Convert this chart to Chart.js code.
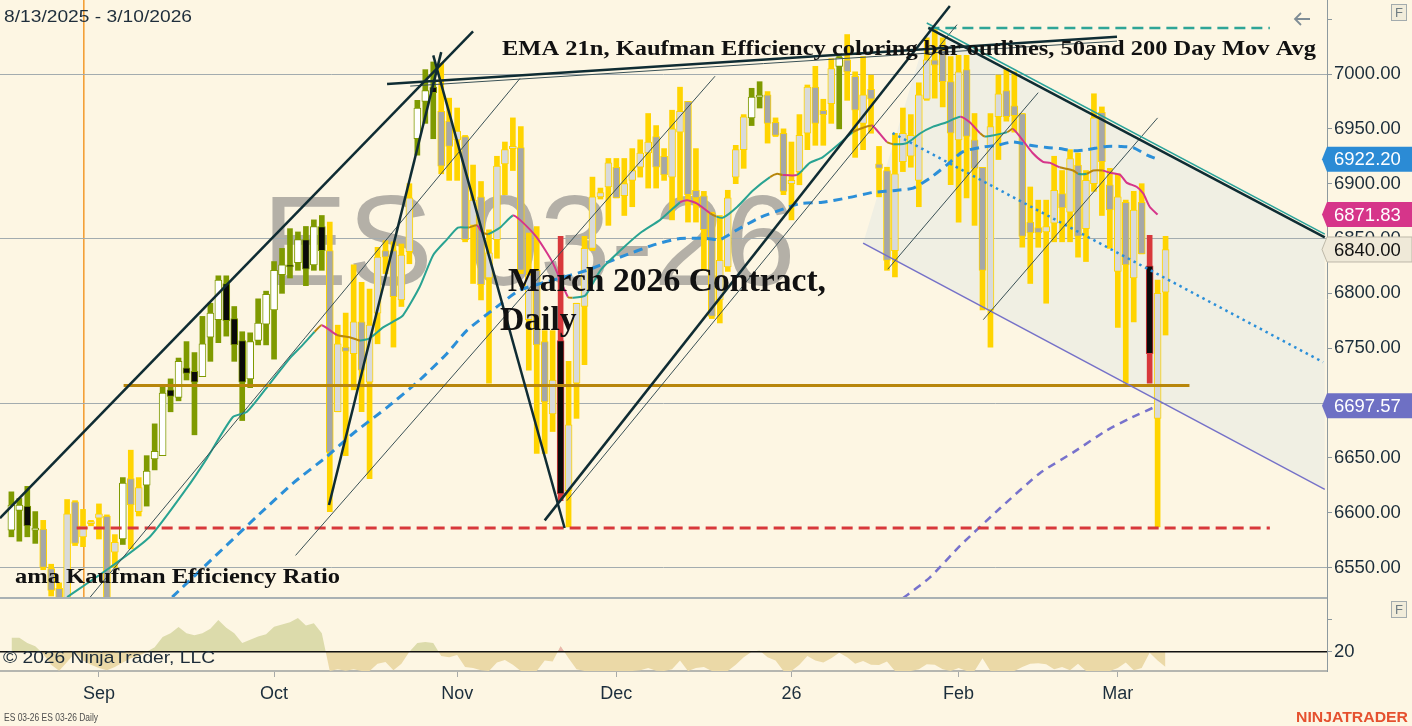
<!DOCTYPE html>
<html>
<head>
<meta charset="utf-8">
<title>ES 03-26 Daily</title>
<script src="https://cdn.jsdelivr.net/npm/chart.js@4.4.1/dist/chart.umd.min.js"></script>
<style>
  html, body { margin: 0; padding: 0; background: #fdf6e3; }
  #wrap { position: relative; width: 1412px; height: 726px; overflow: hidden; background: #fdf6e3; }
  #pricePane { position: absolute; left: 0; top: 0; width: 1412px; height: 598px; }
  #erPane { position: absolute; left: 0; top: 597px; width: 1412px; height: 129px; }
</style>
</head>
<body>
<div id="wrap">
  <div id="pricePane"><canvas id="priceChart"></canvas></div>
  <div id="erPane"><canvas id="erChart"></canvas></div>
</div>
<script>
// daily bars, index 0 = first visible bar (mid Aug 2025) .. 145 = 3/10/2026
const barOpen = [
  6584, 6602, 6606, 6584, 6585, 6549, 6531, 6515, 6610, 6578,
  6590, 6595, 6597, 6564, 6576, 6631, 6601, 6625, 6649, 6652,
  6712, 6705, 6732, 6729, 6724, 6760, 6776, 6809, 6777, 6757,
  6722, 6757, 6772, 6785, 6817, 6826, 6828, 6849, 6826, 6861,
  6839, 6692, 6751, 6745, 6774, 6719, 6782, 6839, 6839, 6794,
  6838, 6941, 6975, 6988, 6966, 6957, 6940, 6943, 6862, 6888,
  6814, 6849, 6918, 6932, 6933, 6776, 6821, 6756, 6690, 6757,
  6620, 6718, 6788, 6841, 6888, 6897, 6915, 6889, 6903, 6915,
  6928, 6943, 6925, 6906, 6947, 6975, 6894, 6889, 6873, 6794,
  6824, 6906, 6931, 6960, 6979, 6981, 6956, 6946, 6900, 6911,
  6946, 6988, 6967, 6973, 7007, 7013, 6998, 6955, 6986, 6918,
  6912, 6839, 6920, 6925, 6903, 6977, 7013, 7022, 6993, 6940,
  7004, 6940, 6915, 6785, 6961, 6985, 6971, 6964, 6865, 6860,
  6856, 6864, 6891, 6874, 6917, 6859, 6900, 6965, 6899, 6820,
  6883, 6814, 6883, 6825, 6686, 6801
];
const barHigh = [
  6619, 6613, 6624, 6601, 6593, 6553, 6536, 6612, 6611, 6603,
  6593, 6608, 6598, 6580, 6632, 6657, 6632, 6652, 6681, 6715,
  6722, 6741, 6756, 6746, 6779, 6791, 6816, 6816, 6788, 6765,
  6764, 6795, 6802, 6829, 6841, 6859, 6856, 6861, 6867, 6871,
  6865, 6771, 6782, 6826, 6810, 6804, 6842, 6848, 6847, 6845,
  6900, 6976, 7004, 7011, 7010, 6978, 6969, 6944, 6917, 6902,
  6858, 6925, 6938, 6960, 6952, 6855, 6861, 6766, 6766, 6852,
  6738, 6791, 6852, 6906, 6896, 6923, 6923, 6923, 6932, 6940,
  6964, 6953, 6932, 6967, 6988, 6975, 6932, 6893, 6874, 6871,
  6894, 6935, 6963, 6987, 6993, 6984, 6960, 6950, 6938, 6963,
  6990, 7007, 6977, 7014, 7016, 7036, 7002, 7016, 6999, 6934,
  6915, 6946, 6969, 6963, 6992, 7033, 7041, 7033, 7016, 7017,
  7017, 6964, 6915, 6964, 6999, 7005, 7002, 6964, 6897, 6885,
  6885, 6925, 6912, 6931, 6928, 6912, 6982, 6970, 6914, 6909,
  6885, 6893, 6900, 6853, 6812, 6852
];
const barLow = [
  6578, 6574, 6578, 6572, 6548, 6524, 6505, 6505, 6570, 6569,
  6588, 6576, 6505, 6550, 6571, 6567, 6597, 6606, 6639, 6652,
  6692, 6702, 6721, 6671, 6724, 6738, 6755, 6761, 6738, 6684,
  6714, 6753, 6753, 6740, 6800, 6814, 6821, 6807, 6821, 6821,
  6601, 6692, 6652, 6712, 6692, 6631, 6754, 6818, 6751, 6788,
  6827, 6926, 6955, 6941, 6909, 6903, 6903, 6847, 6809, 6794,
  6718, 6832, 6890, 6912, 6818, 6730, 6654, 6654, 6674, 6611,
  6587, 6686, 6735, 6839, 6886, 6862, 6887, 6871, 6879, 6906,
  6896, 6896, 6903, 6867, 6885, 6865, 6865, 6821, 6777, 6773,
  6820, 6900, 6914, 6953, 6969, 6937, 6943, 6890, 6867, 6899,
  6931, 6935, 6935, 6955, 6950, 6976, 6924, 6931, 6946, 6888,
  6821, 6815, 6911, 6915, 6879, 6976, 6978, 6970, 6899, 6865,
  6887, 6862, 6785, 6751, 6922, 6957, 6947, 6842, 6809, 6842,
  6791, 6847, 6847, 6847, 6833, 6829, 6893, 6871, 6841, 6769,
  6718, 6774, 6836, 6718, 6587, 6762
];
const barClose = [
  6607, 6607, 6588, 6586, 6550, 6529, 6515, 6599, 6572, 6588,
  6591, 6599, 6515, 6573, 6627, 6607, 6623, 6638, 6656, 6709,
  6706, 6738, 6727, 6719, 6754, 6782, 6812, 6775, 6753, 6719,
  6756, 6773, 6799, 6821, 6826, 6824, 6849, 6822, 6861, 6839,
  6655, 6754, 6747, 6774, 6730, 6771, 6833, 6833, 6797, 6835,
  6887, 6969, 6985, 6983, 6916, 6934, 6948, 6849, 6885, 6808,
  6837, 6916, 6931, 6934, 6821, 6817, 6753, 6701, 6721, 6617,
  6680, 6791, 6841, 6888, 6892, 6919, 6887, 6900, 6912, 6928,
  6938, 6915, 6908, 6950, 6966, 6890, 6887, 6858, 6779, 6830,
  6887, 6931, 6961, 6979, 6980, 6955, 6944, 6893, 6903, 6944,
  6988, 6955, 6963, 7005, 7015, 7002, 6967, 6981, 6977, 6914,
  6830, 6909, 6946, 6944, 6981, 7013, 7008, 6993, 6946, 7002,
  6943, 6914, 6821, 6952, 6982, 6961, 6962, 6852, 6855, 6855,
  6861, 6894, 6878, 6923, 6852, 6903, 6960, 6920, 6876, 6888,
  6826, 6876, 6836, 6745, 6800, 6840
];
// Kaufman efficiency state per bar: T = efficient trend, C = choppy, R = reversal
const barState = (
  'TTTTCCCCCC' + 'CCCCTCCTTT' + 'TTTTTTTTTT' + 'TTTTTTTTTT' + 'CCCCCCCCCC' +
  'CTTTCCCCCC' + 'CCCCCCCCCR' + 'CCCCCCCCCC' + 'CCCCCCCCCC' + 'CCCTTCCCCC' +
  'CCCCTCCCCC' + 'CCCCCCCCCC' + 'CCCCCCCCCC' + 'CCCCCCCCCC' + 'CCCRCC'
).split('');

// ama Kaufman Efficiency Ratio (lower panel)
const erValue = [
  32.8, 32.8, 28, 25, 18, 8, 2.5, 10.5, 19, 12,
  8, 5, 3, 6, 10, 14, 16, 20, 24, 33.5,
  37, 42.7, 37, 35, 37, 41, 49, 42, 37, 28,
  31, 34, 36, 43, 45, 47, 51, 44, 46, 37,
  2.3, 4, 2.5, 4, 2.3, 2.3, 9, 10.5, 3, 9,
  20, 28, 29, 28, 16, 15, 17, 6, 5, 3,
  2.3, 10, 12.5, 8, 2.3, 2.3, 2.3, 12, 11, 25,
  14, 4, 2.3, 2.3, 2.3, 2.3, 2.3, 2.3, 2.3, 3,
  5, 2.5, 2.3, 4, 12, 2.3, 5, 6, 2.3, 2.3,
  2.3, 8, 15, 20, 21, 15, 12, 2.3, 2.3, 8,
  16, 12, 10, 14, 19, 15, 9, 11.5, 8, 7.8,
  11, 2.3, 2.3, 2.3, 4, 8.5, 8, 4, 2.3, 5,
  2.3, 2.3, 14, 2.3, 2.3, 2.3, 2.3, 6, 9, 9.5,
  8.5, 4, 6, 3, 9, 2.3, 2.3, 2.3, 2.3, 5,
  10, 3, 5, 19, 12, 6
];
const erLevel = 20;
const erTicks = [20, 50];

// EMA 21 (u = rising, d = falling, f = flat colouring)
const emaBar = [7, 12.4, 17.4, 22.1, 24.6, 27.8, 29.6, 32.5, 35, 36.6, 38.1, 39, 40.9, 42.5, 43.8, 45, 46.7, 47.9, 49.2, 51.3,
  53, 54.7, 56.1, 57.4, 58.5, 59.1, 59.9, 61.4, 63, 63.9, 66, 68, 69.9, 70.5, 72.1, 74, 76.5, 79, 81.5, 84,
  84.9, 86.1, 87.8, 88.6, 89.4, 91.2, 93.2, 95.3, 96.2, 96.9, 98.7, 100.3, 101.9, 104.1, 105.7, 107, 108.1, 108.7, 110, 110.8,
  112.5, 114.2, 115.8, 117.5, 119.2, 120.4, 121.7, 122.3, 123.3, 125.1, 125.8, 126.7, 128.3, 129.6, 130.5, 131.7, 133.4, 134, 135.1, 135.9,
  137.1, 138, 139.3, 140.1, 141.4, 142.2, 143, 144];
const emaValue = [6523, 6550, 6578, 6623, 6650, 6687, 6692, 6718, 6741, 6753, 6765, 6771, 6762, 6760, 6757, 6759, 6769, 6774, 6780, 6806,
  6835, 6849, 6860, 6860, 6862, 6856, 6854, 6860, 6871, 6867, 6851, 6828, 6797, 6796, 6798, 6821, 6839, 6855, 6867, 6883,
  6885, 6882, 6873, 6870, 6869, 6879, 6894, 6906, 6909, 6908, 6908, 6919, 6924, 6937, 6947, 6951, 6953, 6949, 6938, 6936,
  6937, 6946, 6952, 6956, 6961, 6956, 6946, 6943, 6944, 6947, 6950, 6943, 6928, 6920, 6919, 6915, 6912, 6909, 6909, 6912,
  6912, 6910, 6908, 6901, 6897, 6891, 6879, 6871.83];
const emaTrend = ('uuuuuuuuuu' + 'ufdffuuuuu' + 'uuuufdfuud' + 'dddfuuuuuu' + 'dddfuuuuff' +
  'duuuuffddf' + 'uuuuuddfuu' + 'fdddddffuf' + 'fddddddd').split('');

// 50 and 200 day moving averages
const sma50Bar = [20.2, 31.2, 35.4, 39.6, 42.9, 47.2, 51.3, 54.7, 57.2, 60.5, 63.9, 68, 72.3, 76.5, 80.6, 84, 87.4, 89, 91.2, 94,
  97.4, 99.1, 101.9, 105, 108.2, 111.3, 113.3, 115.4, 117.5, 119.5, 121.7, 123.8, 125.8, 128, 130.1, 131.7, 133.4, 135.1, 137.6, 139.3,
  140.9, 142.7, 144];
const sma50Value = [6523, 6599, 6627, 6651, 6672, 6696, 6721, 6745, 6766, 6785, 6803, 6812, 6821, 6833, 6844, 6850, 6850, 6849, 6858, 6869,
  6878, 6882, 6883, 6887, 6892, 6894, 6896, 6905, 6917, 6929, 6933, 6935, 6938, 6935, 6933, 6932, 6930, 6931, 6934, 6934,
  6933, 6926, 6922.2];
const sma200Bar = [112, 115.4, 119.2, 124.2, 129.2, 133.4, 137.6, 140.5, 144];
const sma200Value = [6522, 6541, 6570, 6604, 6636, 6655, 6675, 6686, 6697.57];

// drawing objects: [bar1, price1, bar2, price2]
const thickLines = [
  [-1.43, 6595, 58.0, 7039],
  [39.9, 6607, 54.0, 7020],
  [53.0, 7017, 69.5, 6586],
  [67.0, 6593, 117.9, 7062],
  [47.2, 6991, 138.9, 7034],
  [115.2, 7042, 165.0, 6851]
];
const thinLines = [
  [9.9, 6523, 63.9, 6996],
  [35.7, 6561, 88.4, 6998],
  [69.8, 6611, 118.8, 7045],
  [50.1, 6989, 138.9, 7030],
  [110.1, 6822, 129.0, 6983],
  [122.1, 6776, 144.0, 6960]
];
const channelUpper = [115.0, 7046.5, 165.0, 6854];
const channelLower = [107.0, 6845.8, 165.0, 6621.3];
const channelMid = [110.7, 6946.2, 164.8, 6737.2];
const channelShade = [[115.2, 7042], [165.0, 6851.3], [165.0, 6621.3], [107.0, 6845.8]];
// horizontal levels: [price, fromBar, toBar]
const goldLevel = [6716, 14.1, 148.0];
const redLevel = [6586, 8.2, 158.1];
const tealLevel = [7042, 115.2, 158.1];
const markerBar = 9.1;

const monthTickIndex = [11, 33, 56, 76, 98, 119, 139];
const monthTickLabel = ['Sep', 'Oct', 'Nov', 'Dec', '26', 'Feb', 'Mar'];
const priceTicks = [6550, 6600, 6650, 6700, 6750, 6800, 6850, 6900, 6950, 7000, 7050];

const X_MIN = -1.43, X_MAX = 165.28;
const Y_MIN = 6522.2, Y_MAX = 7067.5;

const stateColor = { T: '#7f9a00', C: '#ffd400', R: '#d8383b' };
const trendColor = { u: '#29a392', d: '#d6358a', f: '#b8860b' };
const AXIS_FONT = 'Liberation Sans';
const TEXT_DARK = '#1b2d3b';

Chart.defaults.font.family = AXIS_FONT;

function bodyFill(i) {
  const s = barState[i];
  const up = barClose[i] >= barOpen[i];
  if (s === 'R') return '#0a0a0a';
  if (s === 'T') return up ? '#ffffff' : '#0a0a0a';
  return up ? '#d8dadb' : '#a5a7a8';
}

function fitText(ctx, text, x, y, font, color, width) {
  ctx.save();
  ctx.font = font;
  ctx.fillStyle = color;
  ctx.textBaseline = 'alphabetic';
  ctx.translate(x, y);
  if (width) ctx.scale(width / ctx.measureText(text).width, 1);
  ctx.fillText(text, 0, 0);
  ctx.restore();
}

function segment(ctx, x, y, seg) {
  ctx.beginPath();
  ctx.moveTo(x.getPixelForValue(seg[0]), y.getPixelForValue(seg[1]));
  ctx.lineTo(x.getPixelForValue(seg[2]), y.getPixelForValue(seg[3]));
  ctx.stroke();
}

function level(ctx, x, y, lv) {
  const py = y.getPixelForValue(lv[0]);
  ctx.beginPath();
  ctx.moveTo(x.getPixelForValue(lv[1]), py);
  ctx.lineTo(x.getPixelForValue(lv[2]), py);
  ctx.stroke();
}

function fButton(ctx, x, y) {
  ctx.save();
  ctx.fillStyle = '#f1ecda';
  ctx.strokeStyle = '#a3abad';
  ctx.lineWidth = 1;
  ctx.fillRect(x + 0.5, y + 0.5, 15, 16);
  ctx.strokeRect(x + 0.5, y + 0.5, 15, 16);
  ctx.fillStyle = '#6f7c82';
  ctx.font = '13px "' + AXIS_FONT + '"';
  ctx.textAlign = 'center';
  ctx.textBaseline = 'middle';
  ctx.fillText('F', x + 8, y + 9);
  ctx.restore();
}

function priceMarker(ctx, left, py, value, bg, fg, border) {
  const h = 25;
  ctx.save();
  ctx.beginPath();
  ctx.moveTo(left - 5, py);
  ctx.lineTo(left, py - h / 2);
  ctx.lineTo(1412, py - h / 2);
  ctx.lineTo(1412, py + h / 2);
  ctx.lineTo(left, py + h / 2);
  ctx.closePath();
  ctx.fillStyle = bg;
  ctx.fill();
  if (border) { ctx.strokeStyle = border; ctx.lineWidth = 1; ctx.stroke(); }
  ctx.fillStyle = fg;
  ctx.font = '18.5px "' + AXIS_FONT + '"';
  ctx.textBaseline = 'middle';
  ctx.fillText(value.toFixed(2), left + 7, py + 1);
  ctx.restore();
}

const priceOverlay = {
  id: 'priceOverlay',
  beforeDraw(chart) {
    const { ctx, chartArea: a, scales: { x, y } } = chart;
    ctx.save();
    ctx.beginPath();
    ctx.rect(a.left, a.top, a.right - a.left, a.bottom - a.top);
    ctx.clip();
    ctx.font = '128px "' + AXIS_FONT + '"';
    ctx.fillStyle = '#b4b0a7';
    ctx.fillText('ES 03-26', 262, 285);
    ctx.beginPath();
    channelShade.forEach((pt, k) => {
      const px = x.getPixelForValue(pt[0]), py = y.getPixelForValue(pt[1]);
      if (k) ctx.lineTo(px, py); else ctx.moveTo(px, py);
    });
    ctx.closePath();
    ctx.fillStyle = '#f0efe3';
    ctx.fill();
    const mx = x.getPixelForValue(markerBar);
    ctx.strokeStyle = '#f39a2c';
    ctx.lineWidth = 1.5;
    ctx.beginPath();
    ctx.moveTo(mx, a.top);
    ctx.lineTo(mx, a.bottom);
    ctx.stroke();
    ctx.restore();
  },
  afterDatasetsDraw(chart) {
    const { ctx, chartArea: a, scales: { x, y } } = chart;
    ctx.save();
    ctx.beginPath();
    ctx.rect(a.left, a.top, a.right - a.left, a.bottom - a.top);
    ctx.clip();
    ctx.lineCap = 'butt';

    ctx.strokeStyle = '#b8860b'; ctx.lineWidth = 3;
    level(ctx, x, y, goldLevel);
    ctx.setLineDash([11, 6]);
    ctx.strokeStyle = '#d8383b'; ctx.lineWidth = 3;
    level(ctx, x, y, redLevel);
    ctx.strokeStyle = '#2ea597'; ctx.lineWidth = 2.5;
    level(ctx, x, y, tealLevel);
    ctx.setLineDash([]);

    ctx.strokeStyle = '#7571c8'; ctx.lineWidth = 1.5;
    segment(ctx, x, y, channelLower);
    ctx.strokeStyle = '#2b8fd9'; ctx.lineWidth = 2.5;
    ctx.setLineDash([2.5, 4]);
    segment(ctx, x, y, channelMid);
    ctx.setLineDash([]);

    ctx.strokeStyle = '#3a5156'; ctx.lineWidth = 1;
    thinLines.forEach(s => segment(ctx, x, y, s));
    ctx.strokeStyle = '#2aa39a'; ctx.lineWidth = 1.5;
    segment(ctx, x, y, channelUpper);
    ctx.strokeStyle = '#0f2c33'; ctx.lineWidth = 2.5;
    thickLines.forEach(s => segment(ctx, x, y, s));
    ctx.restore();
  },
  afterDraw(chart) {
    const { ctx, chartArea: a, scales: { y } } = chart;
    fitText(ctx, '8/13/2025 - 3/10/2026', 4, 22, '17px "' + AXIS_FONT + '"', '#1f2e3b', 188);
    fitText(ctx, 'EMA 21n, Kaufman Efficiency coloring bar outlines, 50and 200 Day Mov Avg', 502, 55,
      'bold 21px "Liberation Serif"', '#111111', 814);
    ctx.save();
    ctx.font = 'bold 34px "Liberation Serif"';
    const k = 318 / ctx.measureText('March 2026 Contract,').width;
    const dw = ctx.measureText('Daily').width * k;
    ctx.restore();
    fitText(ctx, 'March 2026 Contract,', 508, 291, 'bold 34px "Liberation Serif"', '#111111', 318);
    fitText(ctx, 'Daily', 500, 330, 'bold 34px "Liberation Serif"', '#111111', dw);
    fitText(ctx, 'ama Kaufman Efficiency Ratio', 15, 583, 'bold 21px "Liberation Serif"', '#111111', 325);

    // back arrow and F button
    ctx.save();
    ctx.strokeStyle = '#7f8d96';
    ctx.lineWidth = 1.8;
    ctx.beginPath();
    ctx.moveTo(1310, 19); ctx.lineTo(1295, 19);
    ctx.moveTo(1301, 13); ctx.lineTo(1295, 19); ctx.lineTo(1301, 25);
    ctx.stroke();
    ctx.restore();
    fButton(ctx, 1391, 4);

    const left = a.right;
    priceMarker(ctx, left, y.getPixelForValue(sma50Value[sma50Value.length - 1]), sma50Value[sma50Value.length - 1], '#2b8bd5', '#ffffff');
    priceMarker(ctx, left, y.getPixelForValue(emaValue[emaValue.length - 1]), emaValue[emaValue.length - 1], '#d6358a', '#ffffff');
    priceMarker(ctx, left, y.getPixelForValue(barClose[barClose.length - 1]), barClose[barClose.length - 1], '#efe9d8', '#111111', '#bdb8a8');
    priceMarker(ctx, left, y.getPixelForValue(sma200Value[sma200Value.length - 1]), sma200Value[sma200Value.length - 1], '#6e70c4', '#ffffff');
  }
};

const erOverlay = {
  id: 'erOverlay',
  afterDatasetsDraw(chart) {
    const { ctx, chartArea: a, scales: { y } } = chart;
    const py = y.getPixelForValue(erLevel);
    ctx.save();
    ctx.strokeStyle = '#111111';
    ctx.lineWidth = 1.5;
    ctx.beginPath();
    ctx.moveTo(a.left, py);
    ctx.lineTo(a.right, py);
    ctx.stroke();
    ctx.restore();
  },
  afterDraw(chart) {
    const { ctx, chartArea: a } = chart;
    ctx.save();
    ctx.strokeStyle = '#a9b1b3';
    ctx.lineWidth = 2;
    ctx.beginPath();
    ctx.moveTo(0, 1);
    ctx.lineTo(a.right, 1);
    ctx.stroke();
    ctx.restore();
    fitText(ctx, '\u00a9 2026 NinjaTrader, LLC', 3, 66, '17px "' + AXIS_FONT + '"', '#1c2b38', 212);
    fitText(ctx, 'ES 03-26 ES 03-26 Daily', 4, 124, '10px "' + AXIS_FONT + '"', '#4d4d4d', 94);
    fitText(ctx, 'NINJATRADER', 1296, 125, 'bold 15px "' + AXIS_FONT + '"', '#e5512f', 112);
    fButton(ctx, 1391, 4);
  }
};

new Chart(document.getElementById('priceChart'), {
  type: 'bar',
  data: {
    datasets: [
      {
        type: 'line', label: 'EMA 21',
        data: emaBar.map((b, k) => ({ x: b, y: emaValue[k] })),
        borderColor: trendColor.u, borderWidth: 2, pointRadius: 0, tension: 0.2,
        segment: { borderColor: c => trendColor[emaTrend[c.p1DataIndex]] },
        order: 0
      },
      {
        type: 'line', label: 'SMA 50',
        data: sma50Bar.map((b, k) => ({ x: b, y: sma50Value[k] })),
        borderColor: '#2b8fd8', borderWidth: 3, borderDash: [9, 6], pointRadius: 0, tension: 0.2,
        order: 0
      },
      {
        type: 'line', label: 'SMA 200',
        data: sma200Bar.map((b, k) => ({ x: b, y: sma200Value[k] })),
        borderColor: '#7772cc', borderWidth: 2.5, borderDash: [8, 6], pointRadius: 0, tension: 0.2,
        order: 0
      },
      {
        label: 'body',
        data: barOpen.map((o, i) => ({ x: i, y: [o, barClose[i]] })),
        barThickness: 7, grouped: false, minBarLength: 2,
        backgroundColor: c => bodyFill(c.dataIndex || 0),
        borderColor: c => stateColor[barState[c.dataIndex || 0]],
        borderWidth: 1, borderSkipped: false,
        order: 1
      },
      {
        label: 'range',
        data: barLow.map((l, i) => ({ x: i, y: [l, barHigh[i]] })),
        barThickness: 5, grouped: false,
        backgroundColor: c => stateColor[barState[c.dataIndex || 0]],
        borderWidth: 0,
        order: 2
      }
    ]
  },
  options: {
    responsive: true,
    maintainAspectRatio: false,
    animation: false,
    layout: { padding: 0 },
    plugins: { legend: { display: false }, tooltip: { enabled: false } },
    scales: {
      x: { type: 'linear', min: X_MIN, max: X_MAX, offset: false, display: false, grid: { offset: false } },
      y: {
        position: 'right', min: Y_MIN, max: Y_MAX,
        afterBuildTicks: s => { s.ticks = priceTicks.map(v => ({ value: v })); },
        afterFit: s => { s.width = 85; s.paddingTop = 0; s.paddingBottom = 0; },
        ticks: {
          color: TEXT_DARK, padding: 2, font: { size: 18.5 },
          callback: v => (v === 7050 ? '' : Number(v).toFixed(2))
        },
        grid: {
          color: c => (c.tick && (7000 - c.tick.value) % 150 === 0 ? '#a3acaf' : 'rgba(0,0,0,0)'),
          tickColor: '#8d999f', tickLength: 5, lineWidth: 1
        },
        border: { color: '#8d999f', width: 1 }
      }
    }
  },
  plugins: [priceOverlay]
});

new Chart(document.getElementById('erChart'), {
  type: 'line',
  data: {
    datasets: [
      {
        label: 'reversal',
        data: erValue.map((v, i) => ({
          x: i,
          y: (barState[i] === 'R' || barState[i - 1] === 'R' || barState[i + 1] === 'R') ? v : null
        })),
        borderWidth: 0, pointRadius: 0, tension: 0, spanGaps: false,
        fill: { target: { value: erLevel }, above: '#ebb7ad', below: 'rgba(0,0,0,0)' },
        order: 0
      },
      {
        label: 'ama Kaufman Efficiency Ratio',
        data: erValue.map((v, i) => ({ x: i, y: v })),
        borderWidth: 0, pointRadius: 0, tension: 0,
        fill: { target: { value: erLevel }, above: '#dcdbab', below: '#ebd9a7' },
        order: 1
      }
    ]
  },
  options: {
    responsive: true,
    maintainAspectRatio: false,
    animation: false,
    layout: { padding: 0 },
    plugins: { legend: { display: false }, tooltip: { enabled: false } },
    scales: {
      x: {
        type: 'linear', min: X_MIN, max: X_MAX, offset: false,
        afterBuildTicks: s => { s.ticks = monthTickIndex.map(v => ({ value: v })); },
        afterFit: s => { s.height = 55; s.paddingLeft = 0; s.paddingRight = 0; },
        ticks: {
          autoSkip: false, maxRotation: 0, color: TEXT_DARK, padding: 6, font: { size: 18 },
          callback: v => monthTickLabel[monthTickIndex.indexOf(v)]
        },
        grid: { drawOnChartArea: false, offset: false, tickLength: 6, tickColor: '#a8aaa8' },
        border: { color: '#b5b6b0', width: 2 }
      },
      y: {
        position: 'right', min: 2.3, max: 70.2,
        afterBuildTicks: s => { s.ticks = erTicks.map(v => ({ value: v })); },
        afterFit: s => { s.width = 85; s.paddingTop = 0; s.paddingBottom = 0; },
        ticks: { color: TEXT_DARK, padding: 2, font: { size: 18.5 }, callback: v => (v === erLevel ? String(v) : '') },
        grid: { color: 'rgba(0,0,0,0)', tickColor: '#8d999f', tickLength: 5 },
        border: { color: '#8d999f', width: 1 }
      }
    }
  },
  plugins: [erOverlay]
});
</script>
</body>
</html>
